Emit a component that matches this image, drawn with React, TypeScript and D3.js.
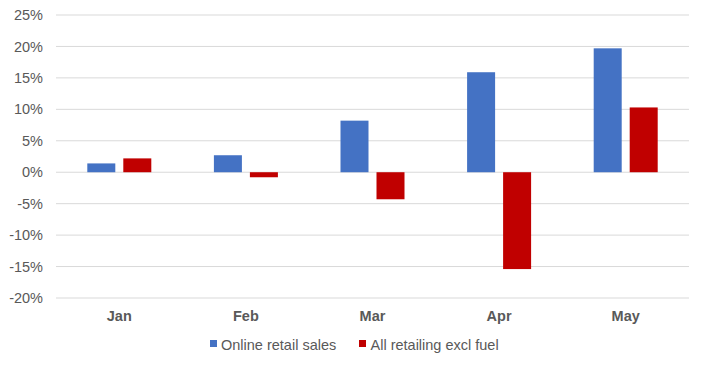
import React from "react";
import * as d3 from "d3";

const categories = ["Jan", "Feb", "Mar", "Apr", "May"];
const seriesNames = ["Online retail sales", "All retailing excl fuel"];
const online = [1.4, 2.7, 8.2, 15.9, 19.7];
const allRetail = [2.2, -0.8, -4.3, -15.4, 10.3];
const yTicks = [25, 20, 15, 10, 5, 0, -5, -10, -15, -20];
const colors = ["#4472C4", "#C00000"];

export default function App() {
  const W = 704, H = 365;
  const left = 56, right = 689, top = 15, bottom = 298;
  const x = d3.scaleBand<string>().domain(categories).range([left, right]).paddingInner(0).paddingOuter(0);
  const y = d3.scaleLinear().domain([-20, 25]).range([bottom, top]);
  const series = [online, allRetail];
  const barW = 28;
  const offsets = [-18, 18];
  const font = "'Liberation Sans', Arial, sans-serif";
  return (
    <svg width={W} height={H} style={{ position: "absolute", left: 0, top: 0, background: "#fff" }}>
      {yTicks.map((t) => (
        <g key={t}>
          <line x1={left} x2={right} y1={y(t)} y2={y(t)} stroke="#d9d9d9" strokeWidth={1} />
          <text x={43} y={y(t)} dy="0.35em" textAnchor="end" fontFamily={font} fontSize={14.5} fill="#595959">
            {t}%
          </text>
        </g>
      ))}
      {series.map((vals, si) =>
        vals.map((v, i) => {
          const cx = (x(categories[i]) as number) + x.bandwidth() / 2 + offsets[si];
          return (
            <rect
              key={si + "-" + i}
              x={cx - barW / 2}
              y={Math.min(y(v), y(0))}
              width={barW}
              height={Math.abs(y(v) - y(0))}
              fill={colors[si]}
            />
          );
        })
      )}
      {categories.map((c) => (
        <text key={c} x={(x(c) as number) + x.bandwidth() / 2} y={321} textAnchor="middle" fontFamily={font} fontSize={14.5} fontWeight="bold" fill="#595959">
          {c}
        </text>
      ))}
      <rect x={210} y={340} width={7} height={7} fill={colors[0]} />
      <text x={221} y={349.5} fontFamily={font} fontSize={14.5} fill="#595959">{seriesNames[0]}</text>
      <rect x={359} y={340} width={7} height={7} fill={colors[1]} />
      <text x={370.5} y={349.5} fontFamily={font} fontSize={14.5} fill="#595959">{seriesNames[1]}</text>
    </svg>
  );
}
